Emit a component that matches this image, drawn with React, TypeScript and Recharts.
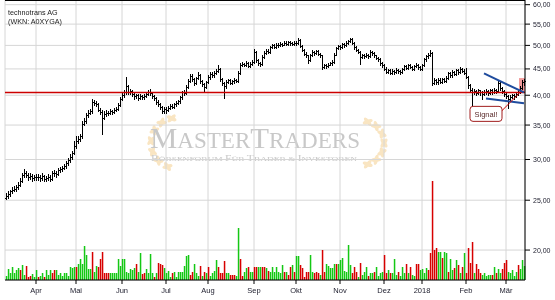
import React from 'react';
import {
  ComposedChart, Bar, XAxis, YAxis, CartesianGrid, ReferenceLine, ReferenceArea, ReferenceDot,
} from 'recharts';

// ---- daily prices (13.03.2017 - 14.03.2018) ----
const opens = [
  25.3,25.5,25.7,26.0,26.2,26.3,26.5,26.8,27.3,28.0,28.3,28.0,27.7,27.9,27.6,
  27.8,27.7,27.8,27.6,27.9,27.5,27.6,27.8,27.5,28.2,28.3,28.1,28.6,28.7,28.9,29.1,29.5,29.9,30.3,30.9,
  31.8,32.6,32.9,33.3,35.2,35.7,36.6,37.0,37.2,38.8,38.6,38.4,37.5,37.1,36.2,36.8,37.0,36.9,37.3,37.1,37.4,37.6,38.3,
  39.3,40.0,40.6,41.6,40.5,40.8,40.2,39.8,40.0,39.5,39.9,39.6,39.9,40.3,40.6,40.4,39.8,39.5,38.8,38.5,37.9,37.3,
  37.6,37.4,37.8,38.2,38.0,38.4,38.6,38.9,39.6,40.5,40.4,41.5,42.7,43.6,43.0,42.3,43.2,43.8,42.6,42.0,41.5,
  42.4,43.4,44.0,43.7,44.2,44.6,45.0,43.0,42.2,41.6,42.5,42.8,42.3,42.6,42.9,42.7,44.2,45.9,46.0,45.8,46.3,45.6,46.1,
  46.4,48.6,46.8,46.2,46.0,47.5,48.4,48.8,48.6,49.6,50.0,49.7,50.2,50.0,50.4,50.1,50.6,50.3,50.7,50.5,50.4,
  50.6,50.5,51.2,49.9,49.0,48.2,47.8,46.8,47.9,48.6,48.3,48.7,48.2,47.8,45.4,45.8,45.5,45.9,46.2,46.4,48.0,49.4,
  49.8,49.7,50.3,50.0,50.6,51.0,51.4,50.6,49.6,49.0,48.6,47.4,47.9,47.6,48.0,47.6,48.6,48.3,47.8,47.3,47.0,46.2,
  45.7,45.0,44.4,44.7,44.2,44.6,44.3,44.8,44.5,44.3,44.9,45.5,45.2,45.8,45.4,45.0,45.6,45.9,45.3,
  45.0,45.8,47.0,47.6,47.9,48.4,42.3,42.8,42.4,42.9,42.5,43.0,42.7,43.3,44.1,43.7,44.4,44.0,44.7,44.3,45.0,44.6,
  44.2,43.5,41.8,41.0,40.6,40.8,40.4,40.9,40.5,40.2,40.6,40.8,40.4,40.9,40.6,41.0,40.7,42.2,41.4,40.8,
  40.2,39.8,39.3,39.7,40.0,39.8,40.3,40.6,41.3,42.4,
];
const highs = [
  25.8,26.0,26.2,26.5,26.6,26.8,27.1,27.6,28.3,28.7,28.5,28.2,28.2,28.1,28.0,
  28.1,28.1,28.0,28.2,28.0,27.9,28.1,28.0,28.5,28.6,28.5,28.9,29.0,29.2,29.4,29.8,30.2,30.7,31.2,32.6,
  33.4,33.3,33.7,35.6,36.1,36.9,37.4,37.6,39.4,39.1,38.9,38.6,37.8,37.4,37.2,37.4,37.3,37.6,37.5,37.7,38.0,38.6,39.7,
  40.4,41.0,43.4,41.8,41.1,41.0,40.5,40.3,40.2,40.2,40.1,40.2,40.6,41.0,41.2,40.6,40.1,39.7,39.1,38.7,38.2,37.9,
  37.9,38.1,38.5,38.5,38.7,38.9,39.2,39.9,40.8,40.9,41.8,43.0,44.0,43.9,43.3,43.5,44.3,43.9,42.8,42.2,42.7,
  43.7,44.4,44.3,44.5,45.0,45.8,45.2,43.3,42.5,42.8,43.1,43.0,42.9,43.2,43.1,44.5,46.2,46.4,46.3,46.6,46.4,46.4,46.8,
  49.2,48.8,47.1,46.5,47.8,48.7,49.2,49.1,49.9,50.4,50.3,50.5,50.5,50.7,50.6,50.9,50.9,51.0,51.0,50.8,50.9,
  50.9,51.6,51.4,50.1,49.3,48.5,48.0,48.2,48.9,48.8,49.0,48.9,48.4,47.9,46.1,46.0,46.2,46.5,46.8,48.3,49.7,50.2,
  50.2,50.6,50.5,50.9,51.3,51.7,51.6,50.8,49.9,49.3,48.8,48.2,48.1,48.3,48.2,48.9,48.8,48.5,48.0,47.5,47.2,46.4,
  46.0,45.3,45.0,44.9,44.9,44.8,45.1,45.0,44.7,45.2,45.9,45.8,46.1,46.1,45.6,45.9,46.2,46.1,45.6,
  46.1,47.3,47.9,48.3,49.0,48.6,43.2,43.1,43.2,43.2,43.3,43.2,43.6,44.4,44.3,44.7,44.6,45.0,44.9,45.3,45.2,44.9,
  45.1,43.6,42.0,41.3,41.1,41.0,41.2,41.0,40.7,40.9,41.1,41.0,41.2,41.1,41.3,41.2,42.9,42.6,41.5,41.0,
  40.5,40.0,40.0,40.3,40.2,40.6,40.9,41.6,42.8,43.1,
];
const lows = [
  25.1,25.3,25.5,25.8,26.0,26.1,26.3,26.6,27.1,27.8,27.7,27.4,27.5,27.3,27.4,
  27.4,27.4,27.3,27.4,27.2,27.3,27.4,27.2,27.4,27.9,27.8,28.0,28.4,28.5,28.7,28.9,29.3,29.7,30.1,30.7,
  31.6,32.3,32.6,33.1,35.0,35.4,36.3,36.7,37.0,38.3,38.1,37.2,36.8,33.6,36.0,36.5,36.6,36.7,36.8,36.9,37.2,37.4,38.1,
  39.1,39.7,40.3,40.2,40.3,39.9,39.4,39.5,39.2,39.3,39.3,39.3,39.6,40.0,40.1,39.5,39.1,38.5,38.1,37.6,37.0,37.0,
  36.9,37.2,37.6,37.7,37.8,38.2,38.4,38.7,39.4,40.0,40.2,41.3,42.5,42.7,41.9,42.1,43.0,42.3,41.7,40.5,41.3,
  42.2,43.1,43.4,43.5,43.9,44.3,42.7,41.9,39.5,41.4,42.2,42.0,42.0,42.3,42.4,42.5,44.0,45.6,45.5,45.5,45.3,45.3,45.8,
  46.2,46.5,45.8,45.6,45.8,47.3,48.2,48.3,48.4,49.4,49.4,49.5,49.7,49.9,49.8,50.0,50.0,50.1,50.2,50.1,50.2,
  50.1,50.3,49.6,48.7,47.9,47.4,46.3,46.6,47.7,48.0,48.1,47.9,47.4,45.0,45.1,45.2,45.3,45.7,45.9,46.2,47.8,49.1,
  49.3,49.5,49.7,49.9,50.4,50.8,50.4,49.3,48.7,48.3,46.0,47.2,47.3,47.4,47.3,47.4,48.0,47.5,47.0,46.7,45.9,45.3,
  44.8,44.1,44.2,43.9,44.0,44.0,44.1,44.2,44.0,44.1,44.7,44.9,45.0,45.1,44.7,44.8,45.4,45.0,44.7,
  44.8,45.6,46.7,47.3,47.6,41.9,42.0,42.1,42.1,42.2,42.2,42.4,42.5,43.1,43.4,43.5,43.7,43.8,44.0,44.1,44.3,43.9,
  43.2,41.4,40.6,38.3,40.3,40.1,40.2,40.1,39.3,40.0,40.3,40.1,40.2,40.2,40.4,40.4,40.5,41.0,40.4,39.8,
  39.5,37.7,39.2,39.5,39.4,39.6,40.1,40.4,41.1,41.9,
];
const closes = [
  25.5,25.7,26.0,26.2,26.3,26.5,26.8,27.3,28.0,28.3,28.0,27.7,27.9,27.6,27.8,
  27.7,27.8,27.6,27.9,27.5,27.6,27.8,27.5,28.2,28.3,28.1,28.6,28.7,28.9,29.1,29.5,29.9,30.3,30.9,31.8,
  32.6,32.9,33.3,35.2,35.7,36.6,37.0,37.2,38.8,38.6,38.4,37.5,37.1,36.2,36.8,37.0,36.9,37.3,37.1,37.4,37.6,38.3,39.3,
  40.0,40.6,41.6,40.5,40.8,40.2,39.8,40.0,39.5,39.9,39.6,39.9,40.3,40.6,40.4,39.8,39.5,38.8,38.5,37.9,37.3,37.6,
  37.4,37.8,38.2,38.0,38.4,38.6,38.9,39.6,40.5,40.4,41.5,42.7,43.6,43.0,42.3,43.2,43.8,42.6,42.0,41.5,42.4,
  43.4,44.0,43.7,44.2,44.6,45.0,43.0,42.2,41.6,42.5,42.8,42.3,42.6,42.9,42.7,44.2,45.9,46.0,45.8,46.3,45.6,46.1,46.4,
  48.6,46.8,46.2,46.0,47.5,48.4,48.8,48.6,49.6,50.0,49.7,50.2,50.0,50.4,50.1,50.6,50.3,50.7,50.5,50.4,50.6,
  50.5,51.2,49.9,49.0,48.2,47.8,46.8,47.9,48.6,48.3,48.7,48.2,47.8,45.4,45.8,45.5,45.9,46.2,46.4,48.0,49.4,49.8,
  49.7,50.3,50.0,50.6,51.0,51.4,50.6,49.6,49.0,48.6,47.4,47.9,47.6,48.0,47.6,48.6,48.3,47.8,47.3,47.0,46.2,45.7,
  45.0,44.4,44.7,44.2,44.6,44.3,44.8,44.5,44.3,44.9,45.5,45.2,45.8,45.4,45.0,45.6,45.9,45.3,45.0,
  45.8,47.0,47.6,47.9,48.4,42.3,42.8,42.4,42.9,42.5,43.0,42.7,43.3,44.1,43.7,44.4,44.0,44.7,44.3,45.0,44.6,44.2,
  43.5,41.8,41.0,40.6,40.8,40.4,40.9,40.5,40.2,40.6,40.8,40.4,40.9,40.6,41.0,40.7,42.2,41.4,40.8,40.2,
  39.8,39.3,39.7,40.0,39.8,40.3,40.6,41.3,42.4,42.6,
];
// volume in thousand shares
const volumes = [
  2,5.5,3.5,6.5,3.5,5,6,5,7.5,2.5,7,1.5,2,3,1.5,
  5,1.5,2,3.5,1.5,5,2.5,5,3.5,5,5,2.5,3.5,2,3.5,3.5,2,6.5,6,6.5,
  6.5,8,10.5,8,17,12.5,5.5,5.5,14,4,7,6.5,10.5,14,3.5,3.5,3.5,3.5,3.5,3.5,3.5,10.5,7,
  10.5,10.5,4,3.5,5.5,5,6,8,4,13.5,3,3.5,5.5,3.5,13,3.5,1.5,3.5,8.5,8,7.5,6,
  3.5,4.5,1.5,3.5,4,1.5,4,4,4,7,12,12.5,2.5,4,8,3.5,2,7,2,4,3.5,
  6.5,2,3.5,4.5,10,6.5,3.5,3.5,9.5,3.5,3.5,2.5,2.5,2.5,2,26,10.5,2,4,6,6.5,4,4,
  6.5,6.5,6.5,6.5,6.5,6.5,6,4.5,4,6.5,4,6.5,4,3.5,7.5,4,4,2.5,6.5,7.5,4,
  12,12,7.5,6,1.5,4,4,12.5,4,3.5,4,3.5,2.5,15,4,8,7,6,6,8,8,8,
  10,11,4.5,4,17.5,7.5,3.5,6.5,4,1.5,8.5,2.5,4,6.5,2,3.5,3.5,4,6.5,2,3.5,4,
  12.5,3.5,5,3.5,3.5,10.5,2.5,4,2,6.5,3.5,8,3.5,6.5,2.5,2,8,8,5,
  5.5,3.5,6,5,13.5,49.5,15,16,14,14,11,14,13.5,4,10.5,5,6,10,7.5,3.5,6.5,13.5,
  3.5,16,8.5,19,3.5,8,5.5,3.5,2.5,3.5,2,2.5,2.5,2.5,6.5,3.5,5.5,3.5,5.5,8.5,
  10,4,3.5,5,2,4,7.5,5.5,10,7,
];
// 1 = up-volume (green), 0 = down-volume (red)
const volumeUp = [
  1,1,1,1,1,1,1,0,1,1,0,0,0,1,1,
  1,0,1,1,0,1,1,1,0,0,1,1,1,1,1,1,1,1,1,1,
  0,1,1,1,1,1,1,1,0,1,1,0,0,0,0,0,0,1,1,1,1,1,1,
  1,1,1,1,1,1,1,0,1,1,0,0,1,1,1,1,0,1,0,0,0,1,
  1,1,1,0,1,1,1,1,1,1,1,1,0,0,1,1,1,0,1,0,1,
  0,1,1,1,1,0,0,0,0,1,1,0,0,0,1,1,0,0,1,1,0,1,1,
  0,0,1,1,0,0,1,0,1,1,1,1,1,1,1,0,1,0,0,1,0,
  1,1,0,0,0,0,0,1,1,0,0,0,1,0,0,1,1,1,1,1,0,1,
  1,1,1,1,1,1,0,0,0,1,0,1,1,1,0,1,1,0,1,1,1,1,
  0,0,1,0,1,1,1,0,1,1,1,0,1,0,1,1,0,0,1,
  1,1,1,0,0,0,0,0,1,1,0,1,1,0,1,1,0,1,0,1,0,1,
  0,0,0,0,1,0,0,0,1,1,1,1,1,0,1,0,1,1,0,0,
  0,1,1,1,1,1,0,1,1,1,
];

const monthStarts = [15, 35, 58, 80, 101, 124, 145, 167, 189, 208, 230, 250];
const monthLabels = ['Apr', 'Mai', 'Jun', 'Jul', 'Aug', 'Sep', 'Okt', 'Nov', 'Dez', '2018', 'Feb', 'Mär'];
const priceTicks = [20, 25, 30, 35, 40, 45, 50, 55, 60];
const priceDomain = [17.49, 61.27];
const volumeDomain = [0, 140];

const supportLevel = 40.5;
const upperTrend = [{ x: 239, y: 44.1 }, { x: 259, y: 40.5 }];
const lowerTrend = [{ x: 240, y: 39.4 }, { x: 259, y: 38.6 }];
const signalLine = [{ x: 247, y: 37.0 }, { x: 257, y: 40.5 }];
const signalPoint = { x: 240, y: 36.8, label: 'Signal!' };
const highlight = { x1: 257, x2: 259, y1: 40.5, y2: 43.2 };

const title = ['technotrans AG', '(WKN: A0XYGA)'];

const data = closes.map((c, i) => ({
  i, o: opens[i], h: highs[i], l: lows[i], c, v: volumes[i], up: volumeUp[i],
}));

const labelOf = new Map(monthStarts.map((s, k) => [s, monthLabels[k]]));
const FONT = '"Liberation Sans", Arial, sans-serif';
const GREEN = '#14c814';
const RED = '#d70000';

const OhlcShape = (props: any) => {
  const { x, y, width, height, payload } = props;
  if (x == null || y == null) return null;
  const top = Math.min(y, y + height);
  const bot = Math.max(y, y + height);
  const lh = Math.log(payload.h);
  const span = lh - Math.log(payload.l);
  const py = (v: number) => (span > 0 ? top + ((lh - Math.log(v)) / span) * (bot - top) : top);
  const cx = Math.round(x + width / 2);
  const t = Math.round(top);
  const b = Math.round(bot);
  return (
    <g fill="#000">
      <rect x={cx} y={t} width={1} height={Math.max(1, b - t + 1)} />
      <rect x={cx - 1} y={Math.round(py(payload.o))} width={1} height={1} />
      <rect x={cx + 1} y={Math.round(py(payload.c))} width={1} height={1} />
    </g>
  );
};

const VolShape = (props: any) => {
  const { x, y, width, height, payload } = props;
  if (x == null || y == null) return null;
  const cx = Math.round(x + width / 2);
  return <rect x={cx - 0.2} y={y} width={1.5} height={Math.max(0, height)} fill={payload.up ? GREEN : RED} />;
};

const SignalShape = (p: any) => (
  <g>
    <rect x={p.cx - 16} y={p.cy - 7.5} width={32} height={15} rx={3} ry={3} fill="#fff" stroke="#a11d1d" strokeWidth={1} />
    <text x={p.cx} y={p.cy + 2.8} textAnchor="middle" fontSize={7.5} fontFamily={FONT} fill="#5a2a2a">
      {signalPoint.label}
    </text>
  </g>
);

const Leaves = ({ cx, cy, r, from, to, n }: any) => {
  const items = [];
  for (let k = 0; k < n; k++) {
    const a = ((from + ((to - from) * k) / (n - 1)) * Math.PI) / 180;
    const px = cx + r * Math.cos(a);
    const py = cy - r * Math.sin(a);
    const tang = (-a * 180) / Math.PI + 90;
    items.push(
      <ellipse key={'a' + k} cx={px} cy={py} rx={5.2} ry={2} transform={`rotate(${tang - 35} ${px} ${py})`} />,
      <ellipse key={'b' + k} cx={px} cy={py} rx={5.2} ry={2} transform={`rotate(${tang + 35} ${px} ${py})`} />,
    );
  }
  return <g>{items}</g>;
};

export default function App() {
  return (
    <div style={{ position: 'absolute', left: 0, top: 0, width: 555, height: 300, background: '#fff', overflow: 'hidden' }}>
      <svg width={555} height={300} style={{ position: 'absolute', left: 0, top: 0 }}>
        <g fill="#f7dcae" opacity={0.75}>
          <Leaves cx={176} cy={143} r={25} from={100} to={250} n={7} />
          <Leaves cx={362} cy={143} r={22} from={-75} to={75} n={7} />
        </g>
        <text x={150} y={148} fill="#c8c8c8" fontFamily='"Liberation Serif", "Times New Roman", serif' textLength={210} lengthAdjust="spacingAndGlyphs">
          <tspan fontSize={30}>M</tspan><tspan fontSize={22.5}>ASTER</tspan><tspan fontSize={30}>T</tspan><tspan fontSize={22.5}>RADERS</tspan>
        </text>
        <text x={151} y={160.5} fill="#c8c8c8" fontFamily='"Liberation Serif", "Times New Roman", serif' textLength={206} lengthAdjust="spacingAndGlyphs">
          <tspan fontSize={8}>B</tspan><tspan fontSize={6.5}>ÖRSENFORUM </tspan><tspan fontSize={8}>F</tspan><tspan fontSize={6.5}>ÜR </tspan>
          <tspan fontSize={8}>T</tspan><tspan fontSize={6.5}>RADER &amp; </tspan><tspan fontSize={8}>I</tspan><tspan fontSize={6.5}>NVESTOREN</tspan>
        </text>
      </svg>
      <div style={{ position: 'absolute', left: 0, top: 0 }}>
        <ComposedChart width={555} height={300} data={data} margin={{ top: 0, right: 0, bottom: 0, left: 5 }} barCategoryGap={0} barGap={0}>
          <CartesianGrid xAxisId="p" yAxisId="price" stroke="#d6d6d6" strokeWidth={1} />
          <XAxis
            xAxisId="p" dataKey="i" type="category" ticks={monthStarts} interval={0} height={20}
            tickFormatter={(v: any) => labelOf.get(v) ?? ''} tickSize={4} tickMargin={4}
            axisLine={{ stroke: '#000' }} tickLine={{ stroke: '#000' }}
            tick={{ fontSize: 7.5, fontFamily: FONT, fill: '#1c1c2c' }}
          />
          <XAxis xAxisId="v" dataKey="i" type="category" hide />
          <YAxis
            yAxisId="price" orientation="right" type="number" scale="log" domain={priceDomain} allowDataOverflow
            ticks={priceTicks} interval={0} width={30} tickSize={5} tickMargin={3}
            tickFormatter={(v: number) => v.toFixed(2).replace('.', ',')}
            axisLine={{ stroke: '#000' }} tickLine={{ stroke: '#000' }}
            tick={{ fontSize: 7, fontFamily: FONT, fill: '#1c1c2c' }}
          />
          <YAxis yAxisId="vol" orientation="left" type="number" domain={volumeDomain} width={0} tick={false} tickLine={false} axisLine={{ stroke: '#000' }} />
          <ReferenceArea xAxisId="p" yAxisId="price" x1={highlight.x1} x2={highlight.x2} y1={highlight.y1} y2={highlight.y2} fill="#f08a8a" fillOpacity={0.85} stroke="none" />
          <Bar xAxisId="v" yAxisId="vol" dataKey="v" isAnimationActive={false} shape={VolShape} />
          <Bar xAxisId="p" yAxisId="price" dataKey={(d: any) => [d.l, d.h]} isAnimationActive={false} shape={OhlcShape} />
          <ReferenceLine xAxisId="p" yAxisId="price" y={supportLevel} stroke="#cc0000" strokeWidth={1.5} />
          <ReferenceLine xAxisId="p" yAxisId="price" segment={upperTrend} stroke="#1f4c9e" strokeWidth={2} />
          <ReferenceLine xAxisId="p" yAxisId="price" segment={lowerTrend} stroke="#1f4c9e" strokeWidth={2} />
          <ReferenceLine xAxisId="p" yAxisId="price" segment={signalLine} stroke="#cc0000" strokeWidth={1} />
          <ReferenceDot xAxisId="p" yAxisId="price" x={signalPoint.x} y={signalPoint.y} shape={SignalShape} />
        </ComposedChart>
      </div>
      <svg width={555} height={300} style={{ position: 'absolute', left: 0, top: 0, pointerEvents: 'none' }}>
        <line x1={5} y1={0.5} x2={525} y2={0.5} stroke="#000" strokeWidth={1} />
        <text x={8} y={14.8} fontSize={7.2} fontFamily={FONT} fill="#222">{title[0]}</text>
        <text x={8} y={23.6} fontSize={7.2} fontFamily={FONT} fill="#222">{title[1]}</text>
      </svg>
    </div>
  );
}
